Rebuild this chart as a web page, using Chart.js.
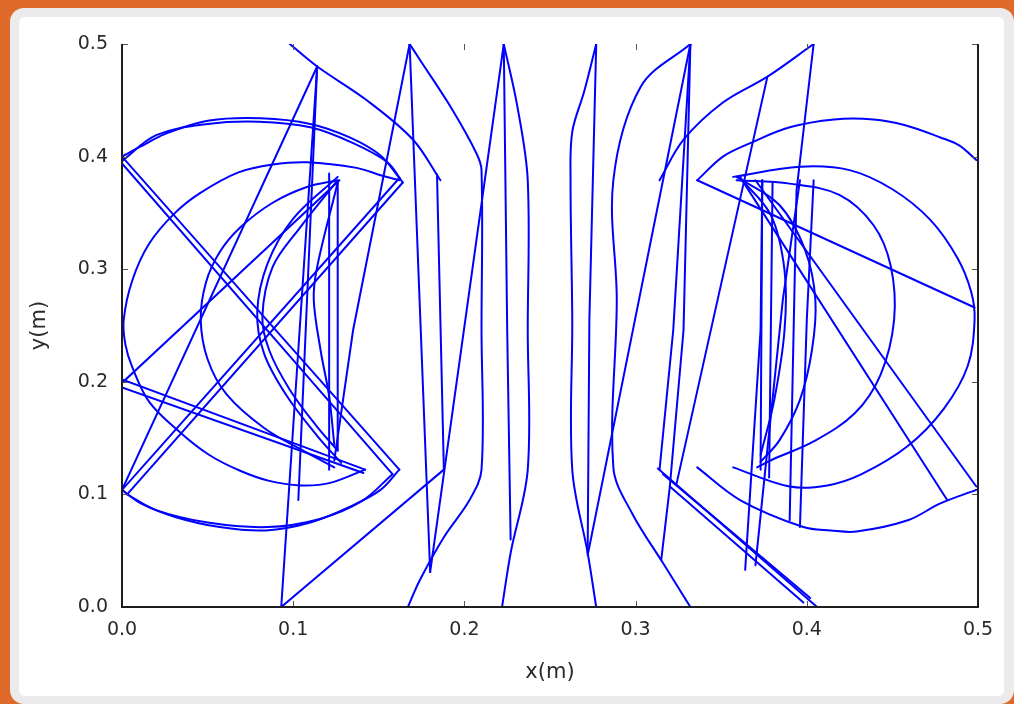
<!DOCTYPE html>
<html>
<head>
<meta charset="utf-8">
<script src="https://cdn.jsdelivr.net/npm/chart.js@4.4.1/dist/chart.umd.min.js"></script>
<style>
  html, body { margin: 0; padding: 0; }
  body { width: 1014px; height: 704px; background: #df6b2a; position: relative; overflow: hidden; }
  #card { position: absolute; left: 10px; top: 8px; width: 1004px; height: 696px; background: #ebebeb; border-radius: 14px; }
  #sheet { position: absolute; left: 19px; top: 17px; width: 985px; height: 679px; background: #ffffff; border-radius: 6px; }
  #plot { position: absolute; left: 0; top: 0; }
</style>
</head>
<body>
<div id="card"></div>
<div id="sheet"></div>
<canvas id="plot" width="1014" height="704"></canvas>
<script>
// Axis ticks
const xTickLabels = ['0.0', '0.1', '0.2', '0.3', '0.4', '0.5'];
const yTickLabels = ['0.0', '0.1', '0.2', '0.3', '0.4', '0.5'];
const xTickValues = [0, 0.1, 0.2, 0.3, 0.4, 0.5];
const yTickValues = [0, 0.1, 0.2, 0.3, 0.4, 0.5];

// Curved pieces of the trajectory, [x, y] in metres
const leftTopArc = [[0.000,0.400],[0.011,0.409],[0.025,0.420],[0.051,0.432],[0.081,0.434],[0.110,0.429],[0.133,0.417],[0.151,0.401],[0.162,0.381]];
const leftTopArcB = [[0.000,0.396],[0.020,0.419],[0.050,0.429],[0.080,0.431],[0.110,0.426],[0.135,0.412],[0.155,0.395],[0.164,0.377]];
const leftLowArc = [[0.000,0.104],[0.011,0.092],[0.031,0.080],[0.057,0.071],[0.084,0.068],[0.110,0.075],[0.133,0.089],[0.151,0.104],[0.162,0.122]];
const leftLowArcB = [[0.003,0.100],[0.020,0.086],[0.050,0.075],[0.085,0.071],[0.115,0.078],[0.140,0.094],[0.158,0.118]];
const leftBigC = [[0.162,0.379],[0.152,0.383],[0.137,0.390],[0.108,0.395],[0.088,0.393],[0.068,0.386],[0.046,0.368],[0.031,0.350],[0.016,0.323],[0.006,0.290],[0.001,0.255],[0.002,0.233],[0.006,0.213],[0.016,0.182],[0.034,0.155],[0.051,0.135],[0.069,0.121],[0.086,0.112],[0.104,0.108],[0.121,0.110],[0.142,0.122]];
const leftInnerC = [[0.126,0.379],[0.108,0.373],[0.088,0.359],[0.069,0.337],[0.057,0.315],[0.049,0.288],[0.046,0.255],[0.050,0.220],[0.061,0.189],[0.083,0.159],[0.108,0.137],[0.124,0.124]];
const leftCrescent = [[0.126,0.379],[0.104,0.337],[0.088,0.302],[0.082,0.258],[0.086,0.228],[0.098,0.193],[0.114,0.160],[0.126,0.139]];
const leftCrescentB = [[0.126,0.382],[0.100,0.345],[0.085,0.305],[0.079,0.262],[0.083,0.225],[0.096,0.188],[0.114,0.152],[0.128,0.128]];
const leftNarrow = [[0.126,0.377],[0.114,0.302],[0.112,0.273],[0.116,0.228],[0.121,0.187],[0.124,0.144]];
const topLeftSweep = [[0.098,0.500],[0.114,0.480],[0.143,0.450],[0.170,0.415],[0.186,0.379]];
const lensA = [[0.168,0.500],[0.174,0.486],[0.192,0.444],[0.207,0.403],[0.210,0.388],[0.210,0.246],[0.210,0.122],[0.203,0.095],[0.188,0.062],[0.174,0.024],[0.167,0.000]];
const lensB = [[0.223,0.500],[0.231,0.444],[0.237,0.379],[0.237,0.246],[0.237,0.122],[0.227,0.048],[0.222,0.000]];
const lensC = [[0.277,0.500],[0.270,0.458],[0.263,0.422],[0.262,0.379],[0.263,0.255],[0.263,0.122],[0.272,0.048],[0.277,0.000]];
const lensD = [[0.332,0.500],[0.303,0.462],[0.287,0.379],[0.289,0.273],[0.287,0.124],[0.298,0.083],[0.316,0.039],[0.332,0.000]];
const topRightSweep = [[0.314,0.379],[0.328,0.415],[0.351,0.448],[0.377,0.471],[0.404,0.500]];
const rightTopArc = [[0.499,0.397],[0.489,0.410],[0.478,0.417],[0.457,0.428],[0.439,0.433],[0.416,0.433],[0.390,0.426],[0.367,0.412],[0.351,0.400],[0.336,0.379]];
const rightLowArc = [[0.336,0.124],[0.361,0.095],[0.398,0.071],[0.414,0.068],[0.429,0.067],[0.459,0.077],[0.478,0.092],[0.499,0.104]];
const rightBigC = [[0.357,0.382],[0.396,0.391],[0.425,0.388],[0.450,0.371],[0.472,0.344],[0.488,0.310],[0.496,0.280],[0.498,0.255],[0.494,0.214],[0.480,0.176],[0.459,0.143],[0.432,0.118],[0.412,0.108],[0.390,0.107],[0.357,0.124]];
const rightInnerC = [[0.359,0.379],[0.390,0.376],[0.419,0.366],[0.439,0.339],[0.449,0.303],[0.451,0.255],[0.443,0.206],[0.428,0.172],[0.404,0.147],[0.380,0.131],[0.371,0.124]];
const rightCrescent = [[0.359,0.382],[0.384,0.357],[0.399,0.317],[0.405,0.273],[0.403,0.228],[0.396,0.184],[0.384,0.148],[0.373,0.129]];
const rightCrescentB = [[0.361,0.381],[0.379,0.348],[0.387,0.299],[0.387,0.246],[0.381,0.184],[0.373,0.135]];

// Straight flights between bounces, [x, y] in metres
const chords = [
  [[0.162,0.381],[0.000,0.104]],
  [[0.164,0.377],[0.003,0.100]],
  [[0.162,0.122],[0.000,0.400]],
  [[0.158,0.118],[0.000,0.394]],
  [[0.142,0.122],[0.000,0.202]],
  [[0.141,0.119],[0.000,0.195]],
  [[0.000,0.199],[0.127,0.379]],
  [[0.000,0.104],[0.114,0.480]],
  [[0.114,0.480],[0.093,0.000],[0.188,0.122]],
  [[0.114,0.480],[0.103,0.095]],
  [[0.168,0.500],[0.135,0.246],[0.124,0.130]],
  [[0.126,0.377],[0.126,0.139]],
  [[0.121,0.385],[0.121,0.122]],
  [[0.184,0.384],[0.188,0.122]],
  [[0.168,0.500],[0.180,0.031]],
  [[0.223,0.500],[0.180,0.031]],
  [[0.223,0.500],[0.225,0.246],[0.227,0.060]],
  [[0.277,0.500],[0.273,0.255],[0.272,0.048]],
  [[0.332,0.500],[0.272,0.046]],
  [[0.332,0.500],[0.328,0.246],[0.320,0.107],[0.315,0.042]],
  [[0.332,0.500],[0.322,0.246],[0.314,0.122]],
  [[0.377,0.471],[0.324,0.110]],
  [[0.404,0.500],[0.394,0.370],[0.390,0.077]],
  [[0.313,0.123],[0.406,0.000]],
  [[0.320,0.107],[0.398,0.004]],
  [[0.316,0.118],[0.402,0.008]],
  [[0.364,0.033],[0.373,0.246],[0.374,0.379]],
  [[0.370,0.037],[0.386,0.273],[0.396,0.379]],
  [[0.396,0.071],[0.400,0.255],[0.404,0.379]],
  [[0.336,0.379],[0.498,0.266]],
  [[0.361,0.382],[0.482,0.095]],
  [[0.370,0.379],[0.499,0.107]],
  [[0.374,0.379],[0.373,0.122]],
  [[0.380,0.377],[0.378,0.115]]
];

const arcs = [leftTopArc, leftTopArcB, leftLowArc, leftLowArcB, leftBigC, leftInnerC, leftCrescent, leftCrescentB, leftNarrow,
  topLeftSweep, lensA, lensB, lensC, lensD, topRightSweep,
  rightTopArc, rightLowArc, rightBigC, rightInnerC, rightCrescent, rightCrescentB];

const pathColor = '#0000ff';
const datasets = [];
arcs.forEach(pts => datasets.push({ data: pts, tension: 0.35 }));
chords.forEach(pts => datasets.push({ data: pts, tension: 0 }));
datasets.forEach(d => Object.assign(d, {
  showLine: true, borderColor: pathColor, borderWidth: 2, pointRadius: 0, fill: false,
  borderJoinStyle: 'round', borderCapStyle: 'round'
}));

// Spines on left, bottom and right, with inward tick marks on every side
const framePlugin = {
  id: 'framePlugin',
  afterDatasetsDraw(chart) {
    const { ctx, chartArea: a, scales: { x, y } } = chart;
    ctx.save();
    ctx.strokeStyle = '#555';
    ctx.lineWidth = 1;
    ctx.beginPath();
    xTickValues.forEach(v => {
      const px = Math.round(x.getPixelForValue(v)) + 0.5;
      ctx.moveTo(px, a.bottom); ctx.lineTo(px, a.bottom - 6);
      ctx.moveTo(px, a.top); ctx.lineTo(px, a.top + 6);
    });
    yTickValues.forEach(v => {
      const py = Math.round(y.getPixelForValue(v)) + 0.5;
      ctx.moveTo(a.left, py); ctx.lineTo(a.left + 6, py);
      ctx.moveTo(a.right, py); ctx.lineTo(a.right - 6, py);
    });
    ctx.stroke();
    ctx.strokeStyle = '#1e1e1e';
    ctx.lineWidth = 2;
    ctx.beginPath();
    ctx.moveTo(a.left, a.top);
    ctx.lineTo(a.left, a.bottom);
    ctx.lineTo(a.right, a.bottom);
    ctx.lineTo(a.right, a.top);
    ctx.stroke();
    ctx.restore();
  }
};

const tickFont = { family: 'DejaVu Sans', size: 19 };
const titleFont = { family: 'DejaVu Sans', size: 21 };

new Chart(document.getElementById('plot'), {
  type: 'scatter',
  data: { datasets },
  options: {
    responsive: false,
    animation: false,
    layout: { padding: { top: 44, right: 36, left: 0, bottom: 0 } },
    plugins: { legend: { display: false }, tooltip: { enabled: false } },
    scales: {
      x: {
        type: 'linear', min: 0, max: 0.5,
        grid: { display: false, drawTicks: false },
        border: { display: false },
        ticks: { stepSize: 0.1, padding: 12, color: '#2a2a2a', font: tickFont, maxRotation: 0,
          callback: (v, i) => xTickLabels[i] },
        title: { display: true, text: 'x(m)', color: '#2a2a2a', font: titleFont, padding: { top: 0, bottom: 19 } },
        afterFit: s => { s.height = 97; }
      },
      y: {
        type: 'linear', min: 0, max: 0.5,
        grid: { display: false, drawTicks: false },
        border: { display: false },
        ticks: { stepSize: 0.1, padding: 14, color: '#2a2a2a', font: tickFont,
          callback: (v, i) => yTickLabels[i] },
        title: { display: true, text: 'y(m)', color: '#2a2a2a', font: titleFont, padding: { top: 27, bottom: 0 } },
        afterFit: s => { s.width = 122; }
      }
    }
  },
  plugins: [framePlugin]
});
</script>
</body>
</html>
